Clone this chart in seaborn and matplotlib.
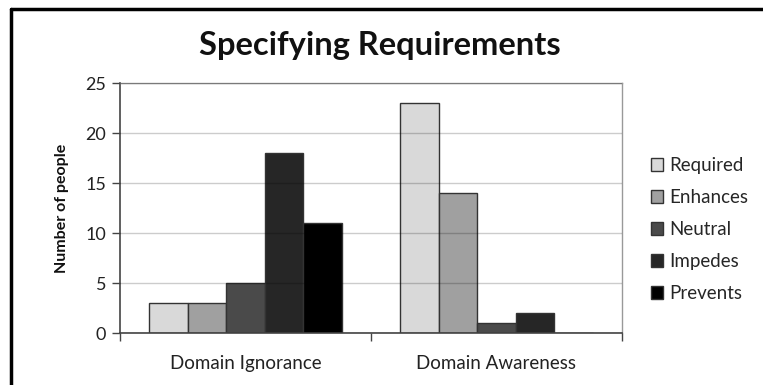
import matplotlib
matplotlib.use("Agg")
import matplotlib.pyplot as plt
from matplotlib.lines import Line2D
from matplotlib.patches import Patch
import seaborn as sns
import pandas as pd

# Survey counts per response category
groups = ["Domain Ignorance", "Domain Awareness"]
responses = ["Required", "Enhances", "Neutral", "Impedes", "Prevents"]
ignorance_counts = [3, 3, 5, 18, 11]
awareness_counts = [23, 14, 1, 2, 0]
yticks = [0, 5, 10, 15, 20, 25]

colors = ["#d9d9d9", "#a0a0a0", "#4a4a4a", "#262626", "#000000"]

rows = []
for g, counts in zip(groups, [ignorance_counts, awareness_counts]):
    for r, c in zip(responses, counts):
        rows.append({"group": g, "response": r, "count": c})
df = pd.DataFrame(rows)

sns.set_theme(style="white")
plt.rcParams["font.family"] = ["Lato", "DejaVu Sans"]

W, H = 763, 385
fig = plt.figure(figsize=(W / 100, H / 100), dpi=100)
ax = fig.add_axes([120 / W, 1 - 333 / H, (622 - 120) / W, (333 - 83) / H])

sns.barplot(data=df, x="group", y="count", hue="response", order=groups,
            hue_order=responses, palette=colors, width=0.77,
            edgecolor="#333333", linewidth=1.0, saturation=1, ax=ax,
            legend=False, errorbar=None)

ax.set_xlim(-0.5, 1.5)
ax.set_ylim(0, 25)
ax.set_yticks(yticks)
ax.set_yticklabels([str(v) for v in yticks], fontsize=13, color="#222222")
ax.yaxis.grid(True, color="black", alpha=0.2, linewidth=1.0)
ax.set_axisbelow(False)

ax.set_xticks([0, 1])
ax.set_xticklabels(groups, fontsize=13.5, color="#222222")
ax.tick_params(axis="x", which="major", length=0, pad=16)
ax.set_xticks([-0.5, 0.5, 1.5], minor=True)
ax.tick_params(axis="x", which="minor", length=6, width=1, color="#444444",
               direction="out", bottom=True)
ax.tick_params(axis="y", length=6, width=1, color="#444444", direction="out",
               left=True, pad=4)

for side in ["top", "right"]:
    ax.spines[side].set_color("#999999")
    ax.spines[side].set_linewidth(1.0)
for side in ["left", "bottom"]:
    ax.spines[side].set_color("#444444")
    ax.spines[side].set_linewidth(1.2)

ax.set_xlabel("")
ax.set_ylabel("Number of people", fontsize=11.5, fontweight="bold",
              color="#111111", labelpad=12)

fig.text(380 / W, 1 - 45 / H, "Specifying Requirements", ha="center",
         va="center", fontsize=23.5, fontweight="bold", color="#111111")

handles = [Patch(facecolor=c, edgecolor="#333333", linewidth=1.0)
           for c in colors]
fig.legend(handles, responses, loc="upper left",
           bbox_to_anchor=(651 / W, 1 - 157 / H), frameon=False,
           fontsize=13.5, handlelength=0.65, handleheight=0.65,
           handletextpad=0.3, labelspacing=0.8, borderpad=0,
           borderaxespad=0)

# Frame lines along the top and left edges
fig.add_artist(Line2D([11 / W, 1], [1 - 9 / H, 1 - 9 / H],
                      transform=fig.transFigure, color="black", linewidth=2.5))
fig.add_artist(Line2D([11 / W, 11 / W], [0, 1 - 9 / H],
                      transform=fig.transFigure, color="black", linewidth=2.5))

fig.savefig("out.png", dpi=100)
